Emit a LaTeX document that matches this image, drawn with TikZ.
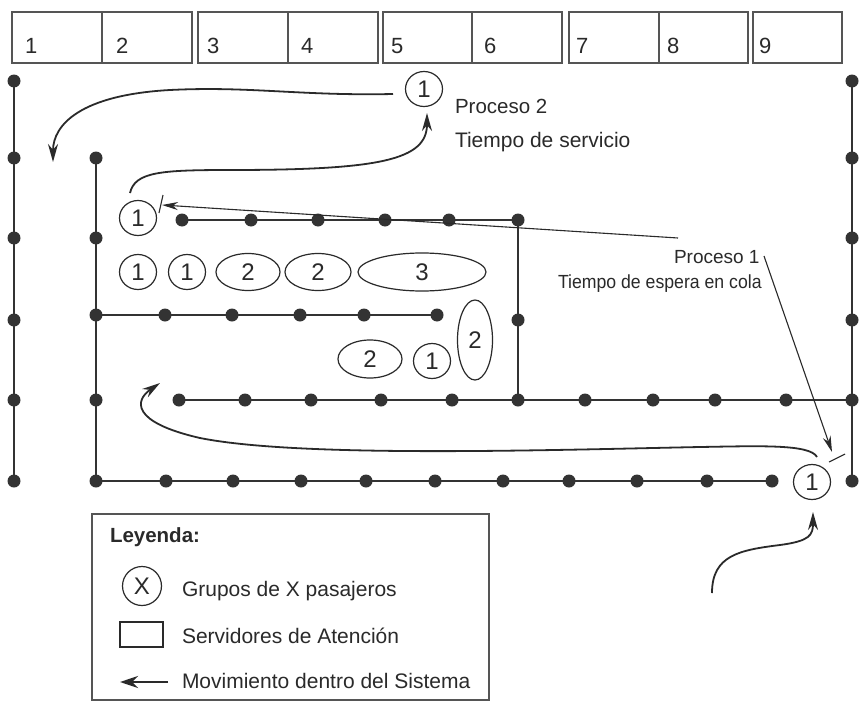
\documentclass[tikz,border=0pt]{standalone}
\usepackage{fontspec}
\setmainfont{Liberation Sans}
\usetikzlibrary{shapes.geometric,arrows.meta}
\definecolor{ink}{HTML}{2A2A2A}
\definecolor{qcol}{HTML}{333333}
\definecolor{boxc}{HTML}{555555}
\begin{document}
\begin{tikzpicture}[x=1pt,y=-1pt,
  every node/.style={inner sep=0pt, outer sep=0pt, text=ink},
  servbox/.style={draw=boxc, line width=1.4pt, minimum width=90pt, minimum height=51pt, anchor=north west},
  numtxt/.style={anchor=base west, font=\fontsize{22}{22}\selectfont},
  qline/.style={draw=qcol, line width=2.2pt},
  dotc/.style={fill=qcol},
  grp/.style={draw=ink, line width=1.2pt, ellipse, minimum width=37pt, minimum height=35pt, font=\fontsize{24}{24}\selectfont},
  conn/.style={draw=ink, line width=1.8pt, -{Stealth[length=18pt,width=10pt]}},
  thinconn/.style={draw=ink, line width=1.1pt, -{Stealth[length=16pt,width=8pt]}},
  tick/.style={draw=ink, line width=1.1pt},
  lbl/.style={anchor=base west, font=\fontsize{20.5}{20.5}\selectfont},
  leg/.style={anchor=base west, font=\fontsize{21}{21}\selectfont}
]
\useasboundingbox (0,0) rectangle (859,701);
\fill[white] (0,0) rectangle (859,701);

% servers
\node[servbox] (s1) at (12,12) {};
\node[servbox] (s2) at (102,12) {};
\node[servbox] (s3) at (198,12) {};
\node[servbox] (s4) at (288,12) {};
\node[servbox, minimum width=89pt] (s5) at (383,12) {};
\node[servbox] (s6) at (472,12) {};
\node[servbox] (s7) at (569,12) {};
\node[servbox, minimum width=89pt] (s8) at (659,12) {};
\node[servbox, minimum width=89pt] (s9) at (753,12) {};
\node[numtxt] (n1) at (25,53) {1};
\node[numtxt] (n2) at (116,53) {2};
\node[numtxt] (n3) at (207,53) {3};
\node[numtxt] (n4) at (301,53) {4};
\node[numtxt] (n5) at (391,53) {5};
\node[numtxt] (n6) at (484,53) {6};
\node[numtxt] (n7) at (576,53) {7};
\node[numtxt] (n8) at (667,53) {8};
\node[numtxt] (n9) at (759,53) {9};

% queue lines
\draw[qline] (14,81) -- (14,481);
\draw[qline] (852,81) -- (852,481);
\draw[qline] (96,158) -- (96,481) -- (772,481);
\draw[qline] (182,220) -- (518,220) -- (518,400);
\draw[qline] (96,315) -- (437,315);
\draw[qline] (179,400) -- (852,400);
\foreach \y in {81,158,238,320,400,481} {
  \fill[dotc] (14,\y) circle[radius=6.5];
  \fill[dotc] (852,\y) circle[radius=6.5];
}
\foreach \y in {158,238,315,400,481} \fill[dotc] (96,\y) circle[radius=6.5];
\foreach \x in {182,251,318,385,449,518} \fill[dotc] (\x,220) circle[radius=6.5];
\fill[dotc] (518,320) circle[radius=6.5];
\foreach \x in {165,232,300,364,437} \fill[dotc] (\x,315) circle[radius=6.5];
\foreach \x in {179,245,311,381,452,518,585,653,715,786} \fill[dotc] (\x,400) circle[radius=6.5];
\foreach \x in {166,233,301,366,435,503,569,637,707,772} \fill[dotc] (\x,481) circle[radius=6.5];

% groups
\node[grp] (g1) at (424,89) {1};
\node[grp] (g2) at (138,218) {1};
\node[grp] (r1) at (138,272) {1};
\node[grp] (r2) at (187,272) {1};
\node[grp, minimum width=64pt, minimum height=37pt] (r3) at (248,272) {2};
\node[grp, minimum width=66pt, minimum height=37pt] (r4) at (318,272) {2};
\node[grp, minimum width=128pt, minimum height=38pt] (r5) at (422,272) {3};
\node[grp, minimum width=64pt, minimum height=38pt] (l1) at (370,359) {2};
\node[grp] (l2) at (432,361) {1};
\node[grp, minimum width=35pt, minimum height=80pt] (l3) at (475,340) {2};
\node[grp] (g3) at (812,482) {1};

% texts
\node[lbl] (p2) at (455,113) {Proceso 2};
\node[lbl, font=\fontsize{21}{21}\selectfont] (p2b) at (455,147) {Tiempo de servicio};
\node[lbl, font=\fontsize{19}{19}\selectfont] (p1) at (674,263) {Proceso 1};
\node[lbl, font=\fontsize{19}{19}\selectfont] (p1b) at (558,288) {\scalebox{0.93}[1]{Tiempo de espera en cola}};

% connectors
\coordinate (a1s) at (393,94);
\coordinate (a1e) at (53,162);
\draw[conn] (a1s) .. controls (300,96) and (250,86) .. (170,90) .. controls (80,95) and (53,125) .. (a1e);
\coordinate (a2s) at (130,193);
\coordinate (a2e) at (427,113);
\draw[conn] (a2s) .. controls (135,172) and (160,170) .. (230,170) .. controls (380,170) and (427,160) .. (a2e);
\coordinate (a3s) at (678,238);
\coordinate (a3e) at (162,205);
\draw[thinconn] (a3s) -- (a3e);
\draw[tick] (159,213) -- (163,195);
\coordinate (a4s) at (764,256);
\coordinate (a4e) at (832,452);
\draw[thinconn] (a4s) -- (a4e);
\draw[tick] (829,462) -- (845,454);
\coordinate (a5s) at (817,457);
\coordinate (a5e) at (160,383);
\draw[conn] (a5s) .. controls (810,444) and (760,446) .. (700,447) .. controls (550,450) and (300,458) .. (200,438) .. controls (130,422) and (135,400) .. (a5e);
\coordinate (a6s) at (712,593);
\coordinate (a6e) at (813,512);
\draw[conn] (a6s) .. controls (712,555) and (740,550) .. (780,545) .. controls (810,541) and (813,535) .. (a6e);

% legend
\draw[draw=boxc, line width=1.4pt] (92,514) rectangle (489,700);
\node[leg, font=\bfseries\fontsize{20.5}{20.5}\selectfont] (lt) at (110,542) {Leyenda:};
\node[grp, minimum size=39pt, circle] (lx) at (142,586) {X};
\node[leg] (lxt) at (182,596) {Grupos de X pasajeros};
\node[draw=ink, line width=1.6pt, minimum width=43pt, minimum height=25pt] (lr) at (141.5,634.5) {};
\node[leg] (lrt) at (182,643) {Servidores de Atención};
\coordinate (lms) at (168,682);
\coordinate (lme) at (120,682);
\draw[draw=ink, line width=2.8pt, -{Stealth[length=18pt,width=12pt]}] (lms) -- (lme);
\node[leg] (lmt) at (182,688) {Movimiento dentro del Sistema};
\end{tikzpicture}
\end{document}
